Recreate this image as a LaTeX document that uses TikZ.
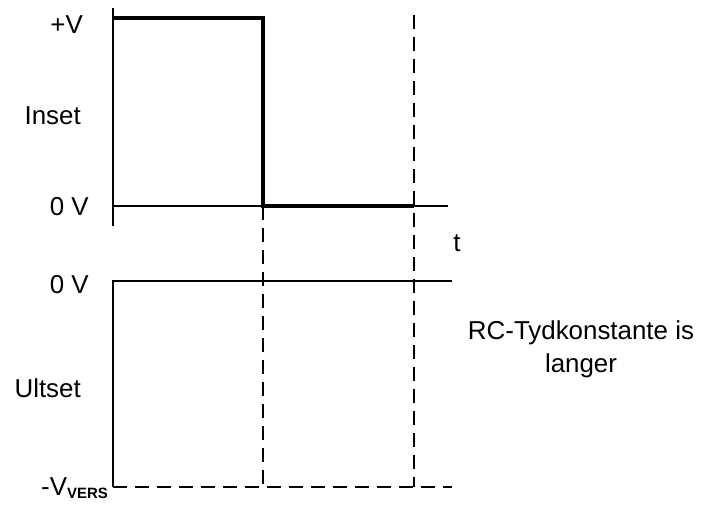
\documentclass[tikz,border=0pt]{standalone}
\usepackage{fontspec}
\setmainfont{Liberation Sans}
\usetikzlibrary{positioning}

\begin{document}
\begin{tikzpicture}[
    x=1bp, y=-1bp,
    signal/.style={line width=4bp},
    axisline/.style={line width=2bp},
    guideline/.style={line width=2bp, dash pattern=on 14bp off 8bp},
    levellabel/.style={
        anchor=base east,
        inner sep=0pt,
        font=\fontsize{26}{33}\selectfont
    },
    notelabel/.style={
        anchor=north,
        inner sep=0pt,
        align=center,
        font=\fontsize{26}{33}\selectfont
    }
]

\useasboundingbox (0,0) rectangle (702,508);

% --- COORDINATES ---

% Input (top) graph
\coordinate (in_top) at (113,8);
\coordinate (in_bot) at (113,226);
\coordinate (in_hi) at (113,18);
\coordinate (in_zero) at (113,206);
\coordinate (in_end) at (448,206);
\coordinate (edge_hi) at (263,18);
\coordinate (edge_lo) at (263,206);
\coordinate (rc_lo) at (414,206);
\coordinate (rc_top) at (414,15);

% Output (bottom) graph
\coordinate (out_zero) at (113,281);
\coordinate (out_end) at (452,281);
\coordinate (out_min) at (113,487);
\coordinate (out_min_end) at (452,487);

% --- AXES ---
\draw[axisline] (in_top) -- (in_bot);
\draw[axisline] (in_zero) -- (in_end);
\draw[axisline] (out_min) -- (out_zero) -- (out_end);
\draw[guideline] (out_min) -- (out_min_end);

% --- TIME MARKERS ---
\draw[guideline] (edge_lo) -- (edge_lo |- out_min);
\draw[guideline] (rc_top) -- (rc_top |- out_min);

% --- INPUT STEP ---
\draw[signal] (in_hi) -- (edge_hi) -- (edge_lo) -- (rc_lo);

% --- LABELS ---
\node[levellabel] (lbl_hi) at (83,34) {+V};
\node[levellabel] (lbl_in) at (81,125) {Inset};
\node[levellabel] (lbl_in_zero) at (89,216) {0 V};
\node[levellabel, anchor=base] (lbl_t) at (457,252) {t};

\node[levellabel] (lbl_out_zero) at (89,293) {0 V};
\node[levellabel] (lbl_out) at (81,397) {Ultset};
\node[levellabel] (lbl_min) at (108,495)
    {-V\raisebox{-3bp}{\fontsize{15}{15}\selectfont\bfseries VERS}};

\node[notelabel] (lbl_rc) at (581,321) {RC-Tydkonstante is\\langer};

\end{tikzpicture}
\end{document}
